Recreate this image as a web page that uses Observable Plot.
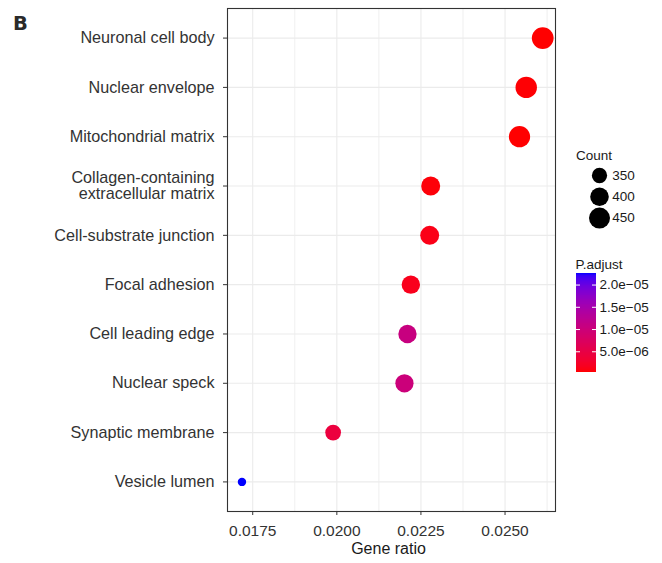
<!DOCTYPE html>
<html><head><meta charset="utf-8">
<script src="https://cdn.jsdelivr.net/npm/d3@7"></script>
<script src="https://cdn.jsdelivr.net/npm/@observablehq/plot@0.6"></script>
<style>
html,body{margin:0;padding:0;background:#fff;}
#fig{position:relative;width:662px;height:563px;font-family:"Liberation Sans",Arial,sans-serif;color:#1a1a1a;}
#fig svg{position:absolute;overflow:visible;}
.lab{position:absolute;line-height:1;white-space:nowrap;}
</style></head>
<body><div id="fig"></div>
<script>
// ---- data (top to bottom) ----
const terms = ["Neuronal cell body","Nuclear envelope","Mitochondrial matrix","Collagen-containing\nextracellular matrix","Cell-substrate junction","Focal adhesion","Cell leading edge","Nuclear speck","Synaptic membrane","Vesicle lumen"];
const geneRatio = [0.02612,0.02563,0.02543,0.02279,0.02276,0.02220,0.02210,0.02201,0.01989,0.01718];
const counts = [468,459,455,408,407,397,396,394,356,308];
const pAdjust = [2.7e-7,4.0e-7,3.0e-7,6.0e-7,1.2e-6,1.5e-6,1.05e-5,1.0e-5,4.2e-6,2.26e-5];
const xTicks = [0.0175,0.0200,0.0225,0.0250];
const xMinor = [0.01875,0.02125,0.02375,0.02625];
const xTickLabels = ["0.0175","0.0200","0.0225","0.0250"];
const countBreaks = [350,400,450];
const pBreaks = [5e-6,1e-5,1.5e-5,2e-5];
const pBreakLabels = ["5.0e\u221206","1.0e\u221205","1.5e\u221205","2.0e\u221205"];

const data = terms.map((term,i)=>({term, ratio:geneRatio[i], count:counts[i], p:pAdjust[i]}));
const minCount = d3.min(counts), maxCount = d3.max(counts);
const rOpts = {type:"sqrt", domain:[0, maxCount-minCount], range:[4.2, 10.9]};
const colorOpts = {type:"linear", domain:d3.extent(pAdjust), range:["red","blue"], interpolate:d3.interpolateLab};
const font = '"Liberation Sans",Arial,sans-serif';
const fig = document.getElementById("fig");

const main = Plot.plot({
  width:662, height:563,
  marginLeft:227, marginRight:107, marginTop:8, marginBottom:52,
  style:{fontFamily:font, fontSize:"16px", background:"transparent", color:"#333"},
  x:{domain:[0.01675,0.0265]},
  y:{type:"point", domain:terms, padding:0.6, round:false},
  r:rOpts,
  color:colorOpts,
  marks:[
    Plot.gridX(xMinor,{stroke:"#ebebeb", strokeOpacity:1, strokeWidth:0.8}),
    Plot.gridX(xTicks,{stroke:"#ebebeb", strokeOpacity:1, strokeWidth:1.1}),
    Plot.gridY(terms,{stroke:"#ebebeb", strokeOpacity:1, strokeWidth:1.1}),
    Plot.dot(data,{x:"ratio", y:"term", r:d=>d.count-minCount, fill:"p", stroke:null}),
    Plot.frame({stroke:"#333", strokeWidth:1.1}),
    Plot.axisX(xTicks,{tickSize:4, tickPadding:9, tickFormat:d=>xTickLabels[xTicks.indexOf(d)], label:null, fontSize:15.5, color:"#333", stroke:"#333"}),
    Plot.axisY({tickSize:4, tickPadding:9, label:null, fontSize:16.2, lineHeight:1.0, color:"#333", stroke:"#333"}),
    Plot.text(["Gene ratio"],{frameAnchor:"bottom", dy:42, dx:-3, text:d=>d, fontSize:16, fill:"#1a1a1a"})
  ]
});
main.style.left="0px"; main.style.top="0px";
fig.appendChild(main);

// panel label
const B = document.createElement("div");
B.className="lab"; B.textContent="B";
Object.assign(B.style,{left:"13px",top:"13.5px",fontSize:"19.5px",fontWeight:"bold",fontFamily:'"DejaVu Sans",sans-serif',color:"#2a2a2a"});
fig.appendChild(B);

// Count legend
const ct = document.createElement("div");
ct.className="lab"; ct.textContent="Count";
Object.assign(ct.style,{left:"576px",top:"148.5px",fontSize:"13.5px"});
fig.appendChild(ct);
const sizeLeg = Plot.plot({
  width:90, height:70, marginLeft:19, marginRight:51, marginTop:15, marginBottom:12.4,
  style:{fontFamily:font, fontSize:"13.5px", background:"transparent", overflow:"visible"},
  x:{axis:null}, y:{type:"point", domain:countBreaks, padding:0, axis:null, round:false},
  r:rOpts,
  marks:[
    Plot.dot(countBreaks,{y:d=>d, r:d=>d-minCount, fill:"black", stroke:null}),
    Plot.text(countBreaks,{y:d=>d, text:d=>String(d), frameAnchor:"left", dx:22.7, textAnchor:"start", fill:"#1a1a1a"})
  ]
});
sizeLeg.style.left="570px"; sizeLeg.style.top="160px";
fig.appendChild(sizeLeg);

// P.adjust colorbar
const pt = document.createElement("div");
pt.className="lab"; pt.textContent="P.adjust";
Object.assign(pt.style,{left:"575.5px",top:"257.5px",fontSize:"13.5px"});
fig.appendChild(pt);
const [pMin,pMax] = d3.extent(pAdjust);
const nSlices = 120, stepP = (pMax-pMin)/nSlices;
const ramp = d3.range(nSlices).map(i=>pMin+stepP*i);
const barLeg = Plot.plot({
  width:100, height:110, marginLeft:16, marginRight:64, marginTop:5, marginBottom:5.7,
  style:{fontFamily:font, fontSize:"13.5px", background:"transparent", overflow:"visible", color:"#1a1a1a"},
  x:{domain:[0,1], axis:null},
  y:{domain:[pMin,pMax], axis:null},
  color:colorOpts,
  marks:[
    Plot.rect(ramp,{y1:d=>d, y2:d=>d+stepP*1.02, fill:d=>d+stepP/2, shapeRendering:"crispEdges"}),
    Plot.ruleY(pBreaks,{x1:0, x2:0.2, stroke:"white", strokeWidth:1}),
    Plot.ruleY(pBreaks,{x1:0.8, x2:1, stroke:"white", strokeWidth:1}),
    Plot.axisY(pBreaks,{anchor:"right", tickSize:0, tickPadding:3, tickFormat:d=>pBreakLabels[pBreaks.indexOf(d)], label:null, fontSize:13.5})
  ]
});
barLeg.style.left="560px"; barLeg.style.top="268px";
fig.appendChild(barLeg);
</script>
</body></html>
